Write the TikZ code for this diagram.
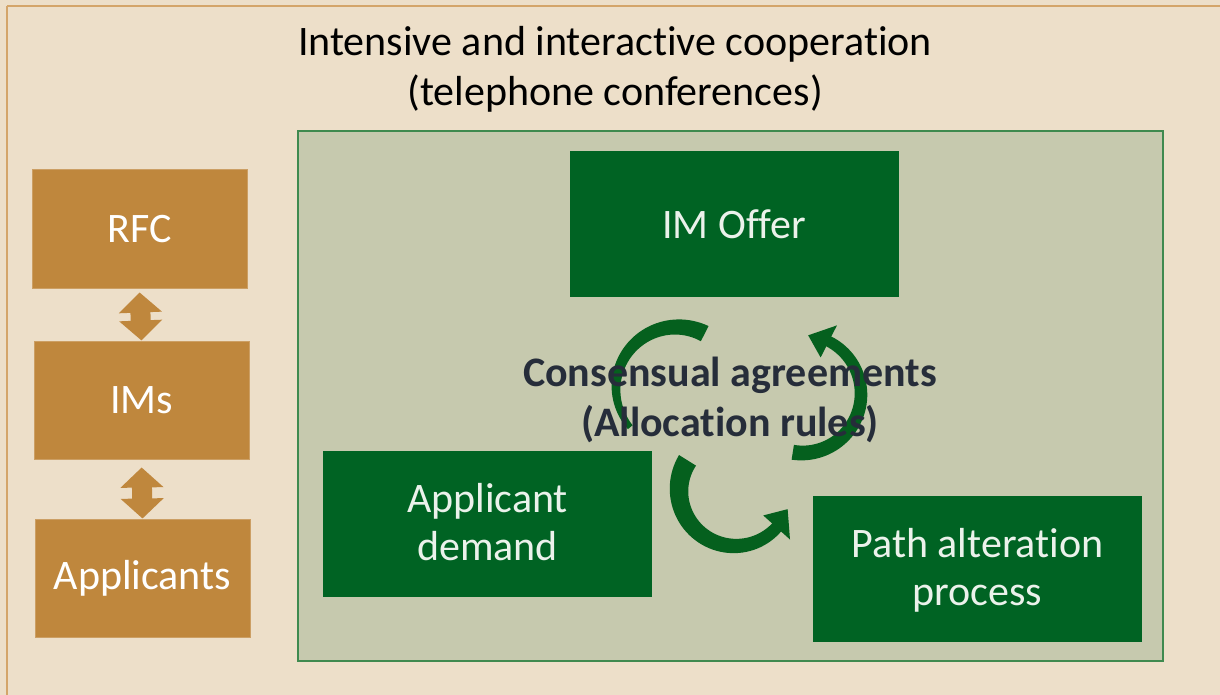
\documentclass[tikz,border=0pt]{standalone}
\usepackage{fontspec}
\setmainfont{Carlito}[RawFeature={-liga;-clig;-calt;-dlig}]
\usetikzlibrary{arrows.meta,calc}
\definecolor{bgc}{RGB}{237,223,201}
\definecolor{bgborder}{RGB}{212,165,106}
\definecolor{brownbox}{RGB}{191,135,61}
\definecolor{regfill}{RGB}{198,201,174}
\definecolor{regborder}{RGB}{63,138,79}
\definecolor{dgreen}{RGB}{0,99,35}
\definecolor{agreen}{RGB}{5,96,30}
\definecolor{boxtext}{RGB}{235,242,235}
\definecolor{midtext}{RGB}{38,45,58}
\tikzset{
  brownnode/.style={fill=brownbox, draw=brownbox!80!white, line width=0.5pt, minimum width=107.5pt, minimum height=59pt, text=white, font=\fontsize{21}{24}\selectfont, align=center},
  greennode/.style={fill=dgreen, minimum width=164.5pt, minimum height=73pt, text=boxtext, font=\fontsize{21}{24}\selectfont, align=center},
  dbl/.style={draw=brownbox, line width=10pt, {Triangle[width=21pt,length=10pt]}-{Triangle[width=21pt,length=10pt]}},
}
% tapered arc body: cx cy R a0 a1 w0 w1
\newcommand\taperarc[7]{%
 \fill[agreen] plot[domain=#4:#5, samples=50, variable=\t]
   ({#1+(#3+(#6+(#7-#6)*(\t-#4)/(#5-#4))/2)*cos(\t)}, {#2-(#3+(#6+(#7-#6)*(\t-#4)/(#5-#4))/2)*sin(\t)})
   -- plot[domain=#5:#4, samples=50, variable=\t]
   ({#1+(#3-(#6+(#7-#6)*(\t-#4)/(#5-#4))/2)*cos(\t)}, {#2-(#3-(#6+(#7-#6)*(\t-#4)/(#5-#4))/2)*sin(\t)})
   -- cycle;}
% arrow head: cx cy R a1 a2 hw
\newcommand\arrhead[6]{%
 \fill[agreen] ({#1+(#3+#6/2)*cos(#4)},{#2-(#3+#6/2)*sin(#4)})
   -- ({#1+#3*cos(#5)},{#2-#3*sin(#5)})
   -- ({#1+(#3-#6/2)*cos(#4)},{#2-(#3-#6/2)*sin(#4)}) -- cycle;}
\begin{document}
\begin{tikzpicture}[x=0.5pt,y=-0.5pt]
\useasboundingbox (0,0) rectangle (1220,695);
\fill[bgc] (0,0) rectangle (1220,695);
\draw[bgborder, line width=1.2pt] (7,6) -- (1230,6);
\draw[bgborder, line width=1.2pt] (7,6) -- (7,705);
\node[font=\fontsize{21}{25}\selectfont, align=center, text=black] (title) at (615,69) {Intensive and interactive cooperation\\(telephone conferences)};
\draw[regborder, fill=regfill, line width=1pt] (298,131) rectangle (1163,661);
\node[brownnode] (rfc) at (139.5,229) {RFC};
\node[brownnode] (ims) at (141.5,400) {IMs};
\node[brownnode] (app) at (142.5,578) {Applicants};
\draw[dbl, shorten <=2pt, shorten >=0pt] (rfc.south) -- (ims.north);
\draw[dbl, shorten <=4pt, shorten >=0pt] (ims.south) -- (app.north);
\node[greennode] (offer) at (734,224) {IM Offer};
\node[greennode, text depth=2pt] (demand) at (487.5,524) {Applicant\\demand};
\node[greennode, text depth=2pt] (path) at (977.5,568.5) {Path alteration\\process};
% circular arrows
\taperarc{677}{388}{61}{63}{220}{17}{6}
\taperarc{802}{394}{59}{-99}{64}{15}{11}
\arrhead{802}{394}{59}{63}{84}{36}
\taperarc{735}{490}{56}{148}{319}{20}{12}
\arrhead{735}{490}{56}{318}{340}{36}
\node[font=\bfseries\fontsize{21}{25}\selectfont, align=center, text=midtext] (cons) at (730,400) {Consensual agreements\\(Allocation rules)};
\end{tikzpicture}
\end{document}
